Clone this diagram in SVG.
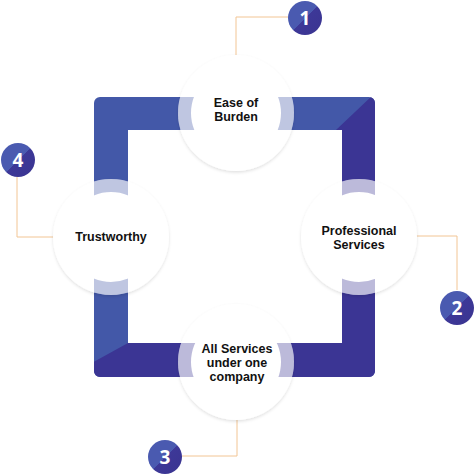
<svg xmlns="http://www.w3.org/2000/svg" width="474" height="474" viewBox="0 0 474 474">
<defs>
<style>
.lbl{font-family:"Liberation Sans",Arial,sans-serif;font-weight:700;font-size:12.5px;fill:#111;text-anchor:middle}
.num{font-family:"Open Sans","Liberation Sans",sans-serif;font-weight:700;font-size:19px;fill:#fff;text-anchor:middle}
.disc{fill:#fff}
.conn{fill:none;stroke:#f2c594;stroke-width:1}
.badge{fill:url(#bg)}
</style>
<linearGradient id="bg" x1="0" y1="0" x2="1" y2="1">
<stop offset="0" stop-color="#4a5ab0"/>
<stop offset="0.5" stop-color="#4a5ab0"/>
<stop offset="0.5" stop-color="#3d3898"/>
<stop offset="1" stop-color="#3a3490"/>
</linearGradient>
<filter id="sh" x="-20%" y="-20%" width="140%" height="140%">
<feDropShadow dx="0" dy="1.5" stdDeviation="1.8" flood-color="#000" flood-opacity="0.12"/>
</filter>
<clipPath id="fc">
<path d="M100 97H369A6 6 0 0 1 375 103V371A6 6 0 0 1 369 377H100A6 6 0 0 1 94 371V103A6 6 0 0 1 100 97ZM128 130V343H342V130Z" clip-rule="evenodd"/>
</clipPath>
<clipPath id="rings">
<path clip-rule="evenodd" d="M178 113A58 58 0 1 0 294 113A58 58 0 1 0 178 113ZM191 113A45 45 0 1 0 281 113A45 45 0 1 0 191 113Z
M301 237A58 58 0 1 0 417 237A58 58 0 1 0 301 237ZM314 237A45 45 0 1 0 404 237A45 45 0 1 0 314 237Z
M178 362A58 58 0 1 0 294 362A58 58 0 1 0 178 362ZM191 362A45 45 0 1 0 281 362A45 45 0 1 0 191 362Z
M53 237A58 58 0 1 0 169 237A58 58 0 1 0 53 237ZM66 237A45 45 0 1 0 156 237A45 45 0 1 0 66 237Z"/>
</clipPath>
<g id="band">
<rect x="90" y="90" width="290" height="292" fill="#4358a8"/>
<polygon points="374,94 336,130 342,130 342,343 128,343 90,364 90,382 380,382 380,94" fill="#3b3594"/>
</g>
</defs>
<g id="frame" clip-path="url(#fc)">
<use href="#band"/>
</g>
<g id="connectors">
<polyline class="conn" points="236,55 236,17 288,17"/>
<polyline class="conn" points="407,236 457,236 457,290"/>
<polyline class="conn" points="237,420 237,456 182,456"/>
<polyline class="conn" points="60,237 17,237 17,177"/>
</g>
<g id="discs" filter="url(#sh)">
<circle class="disc" cx="236" cy="113" r="58"/>
<circle class="disc" cx="359" cy="237" r="58"/>
<circle class="disc" cx="236" cy="362" r="58"/>
<circle class="disc" cx="111" cy="237" r="58"/>
</g>
<g id="ringtint" clip-path="url(#rings)" opacity="0.34">
<g clip-path="url(#fc)"><use href="#band"/></g>
</g>
<g id="node1">
<text class="lbl" x="236" y="106.5"><tspan x="236">Ease of</tspan><tspan x="236" dy="14.2">Burden</tspan></text>
</g>
<g id="node2">
<text class="lbl" x="359" y="234.5"><tspan x="359">Professional</tspan><tspan x="359" dy="14.2">Services</tspan></text>
</g>
<g id="node3">
<text class="lbl" x="237" y="352.5"><tspan x="237">All Services</tspan><tspan x="237" dy="14.2">under one</tspan><tspan x="237" dy="14.2">company</tspan></text>
</g>
<g id="node4">
<text class="lbl" x="111" y="241">Trustworthy</text>
</g>
<g id="badge1"><circle class="badge" cx="305" cy="18" r="17"/><text class="num" x="305" y="25">1</text></g>
<g id="badge2"><circle class="badge" cx="457" cy="308" r="17"/><text class="num" x="457" y="315">2</text></g>
<g id="badge3"><circle class="badge" cx="165" cy="457" r="17"/><text class="num" x="165" y="464">3</text></g>
<g id="badge4"><circle class="badge" cx="18" cy="160" r="17"/><text class="num" x="18" y="167">4</text></g>
</svg>
